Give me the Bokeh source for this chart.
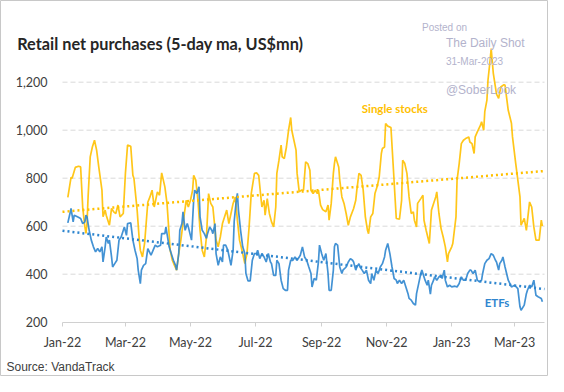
import pandas as pd
from bokeh.plotting import figure
from bokeh.models import (ColumnDataSource, FixedTicker, DatetimeTickFormatter,
                          Label, Range1d, NumeralTickFormatter)
from bokeh.embed import file_html
from bokeh.resources import INLINE

# ---------------- data ----------------
BASE_DATE = "2022-01-01"   # day offsets below are counted from this date

stock_days = [5, 8, 9, 12, 15, 17, 19, 21, 22, 23, 24, 26, 28, 30, 32, 34, 37, 38, 40, 41,
              44, 46, 48, 50, 52, 54, 57, 59, 61, 64, 66, 67, 70, 72, 73, 75, 77, 80, 82, 84,
              86, 89, 91, 93, 96, 98, 101, 103, 105, 107, 109, 111, 113, 116, 118, 120, 122, 123, 125, 127,
              129, 131, 133, 135, 137, 139, 141, 144, 146, 148, 150, 152, 154, 156, 158, 160, 162, 164, 166, 169,
              171, 173, 175, 177, 180, 182, 184, 186, 187, 189, 190, 192, 194, 196, 198, 200, 201, 203, 205, 206,
              208, 210, 212, 214, 215, 217, 219, 220, 222, 224, 226, 228, 230, 232, 233, 235, 237, 239, 240, 242,
              244, 247, 249, 250, 252, 254, 255, 256, 259, 260, 262, 264, 266, 268, 270, 273, 275, 276, 278, 280,
              282, 284, 286, 287, 289, 291, 293, 295, 297, 299, 300, 302, 303, 305, 308, 310, 312, 313, 316, 318,
              319, 321, 323, 325, 327, 329, 330, 332, 333, 336, 338, 339, 341, 344, 346, 348, 350, 351, 353, 355,
              357, 359, 361, 362, 365, 366, 369, 370, 372, 374, 376, 378, 381, 382, 384, 386, 387, 389, 392, 393,
              395, 396, 398, 399, 401, 402, 404, 407, 409, 411, 414, 415, 418, 421, 422, 425, 429, 430, 433, 435,
              438, 440, 442, 444, 447, 449, 450]
stock_values = [720, 803, 800, 845, 850, 847, 675, 597, 570, 612, 722, 889, 930, 958, 917, 847, 750, 639, 667, 646,
                604, 674, 660, 653, 688, 639, 653, 820, 938, 933, 812, 799, 667, 542, 500, 472, 529, 700, 722, 750,
                680, 743, 729, 822, 764, 695, 500, 458, 437, 417, 486, 542, 611, 708, 680, 708, 750, 812, 792, 708,
                583, 500, 472, 555, 736, 695, 680, 542, 514, 555, 611, 639, 667, 611, 653, 695, 722, 625, 542, 486,
                444, 486, 597, 736, 820, 822, 812, 722, 680, 708, 646, 715, 653, 618, 597, 680, 820, 875, 938, 889,
                882, 930, 1000, 1053, 1000, 958, 917, 820, 743, 750, 750, 868, 861, 833, 750, 736, 750, 736, 750, 688,
                669, 660, 688, 625, 695, 820, 861, 889, 847, 792, 722, 695, 653, 604, 639, 674, 708, 750, 820, 812,
                750, 639, 583, 569, 639, 653, 736, 764, 805, 903, 924, 930, 1028, 1017, 1011, 861, 708, 632, 629, 708,
                875, 861, 820, 722, 653, 660, 625, 597, 695, 715, 729, 625, 583, 528, 667, 695, 722, 743, 653, 590,
                555, 514, 451, 486, 514, 528, 639, 792, 861, 944, 958, 965, 972, 951, 944, 903, 972, 993, 1021, 1035,
                1000, 1077, 1125, 1208, 1292, 1340, 1237, 1150, 1133, 1180, 1190, 1187, 1083, 1029, 972, 862, 722, 604, 633, 583,
                701, 680, 597, 542, 542, 625, 600]

etf_days = [5, 7, 8, 10, 11, 14, 17, 19, 21, 22, 23, 25, 27, 29, 31, 33, 35, 37, 38, 40,
            41, 43, 44, 46, 47, 49, 51, 53, 55, 58, 60, 61, 64, 66, 68, 70, 71, 73, 74, 76,
            78, 80, 83, 85, 87, 89, 92, 93, 96, 97, 100, 102, 104, 106, 107, 109, 110, 112, 113, 115,
            117, 118, 121, 123, 124, 126, 128, 129, 131, 133, 135, 136, 138, 140, 141, 143, 144, 146, 148, 150,
            151, 153, 155, 157, 158, 160, 161, 163, 164, 165, 167, 169, 171, 172, 174, 176, 178, 180, 182, 183,
            185, 187, 189, 191, 193, 195, 196, 198, 200, 201, 203, 205, 207, 209, 211, 212, 214, 216, 218, 220,
            222, 223, 225, 227, 229, 231, 233, 234, 236, 238, 240, 241, 243, 245, 247, 249, 250, 252, 254, 255,
            256, 258, 260, 262, 263, 266, 268, 270, 272, 273, 275, 276, 278, 279, 281, 283, 285, 287, 289, 290,
            292, 294, 296, 298, 300, 302, 303, 305, 307, 309, 311, 313, 314, 316, 318, 320, 322, 324, 325, 327,
            329, 331, 332, 334, 336, 337, 338, 340, 342, 343, 345, 346, 348, 349, 351, 353, 355, 356, 358, 359,
            361, 363, 365, 368, 370, 372, 374, 376, 378, 380, 382, 383, 385, 387, 389, 391, 393, 394, 396, 398,
            400, 402, 404, 406, 407, 409, 410, 412, 413, 415, 418, 421, 424, 427, 429, 430, 433, 435, 436, 438,
            440, 442, 444, 446, 449, 450]
etf_values = [614, 653, 674, 618, 646, 639, 632, 611, 618, 646, 639, 583, 542, 514, 493, 507, 493, 514, 451, 514,
              555, 528, 542, 472, 430, 444, 458, 542, 555, 597, 562, 611, 614, 542, 500, 465, 417, 361, 417, 437,
              444, 507, 479, 500, 521, 514, 521, 569, 569, 597, 514, 486, 458, 437, 417, 486, 583, 611, 660, 583,
              611, 597, 542, 708, 750, 736, 764, 639, 583, 569, 549, 569, 597, 583, 569, 611, 486, 437, 472, 451,
              521, 521, 500, 458, 437, 500, 620, 708, 737, 667, 583, 514, 486, 403, 372, 372, 458, 486, 486, 500,
              465, 486, 472, 451, 486, 451, 444, 395, 395, 458, 444, 375, 340, 333, 333, 417, 458, 458, 472, 458,
              472, 479, 514, 472, 458, 430, 403, 347, 382, 375, 451, 521, 486, 458, 486, 403, 333, 333, 417, 514,
              528, 521, 430, 403, 417, 430, 451, 465, 458, 451, 417, 430, 444, 430, 417, 403, 417, 375, 361, 403,
              375, 417, 403, 430, 444, 472, 500, 528, 486, 430, 382, 375, 361, 375, 361, 375, 347, 319, 299, 292,
              278, 271, 319, 361, 403, 417, 403, 375, 354, 375, 317, 354, 375, 389, 375, 389, 396, 382, 417, 375,
              347, 354, 347, 350, 347, 361, 389, 375, 375, 403, 417, 417, 403, 417, 375, 368, 375, 403, 444, 458,
              465, 486, 479, 458, 451, 417, 444, 458, 472, 430, 375, 347, 354, 340, 264, 250, 271, 319, 333, 354,
              347, 375, 312, 306, 299, 285]

# dotted linear trend lines (start / end), as drawn in the reference
trend_days = [0, 452]
stock_trend = [660, 830]
etf_trend = [581, 338]

x_tick_dates = ["2022-01-01", "2022-03-01", "2022-05-01", "2022-07-01",
                "2022-09-01", "2022-11-01", "2023-01-01", "2023-03-01"]
AXIS_END_DAY = 452          # plot area ends ~28-Mar-2023
y_ticks = [200, 400, 600, 800, 1000, 1200]

# ---------------- helpers ----------------
base = pd.Timestamp(BASE_DATE)
EPOCH = pd.Timestamp("1970-01-01")


def to_ms(ts):
    return (ts - EPOCH) / pd.Timedelta(milliseconds=1)


def days_to_dates(days):
    return base + pd.to_timedelta(days, unit="D")


W, H = 548, 376
AX_LEFT, AX_RIGHT, AX_BASE = 62, 544, 321.7     # plot area in canvas pixels
PX_PER_DAY = (AX_RIGHT - AX_LEFT) / AXIS_END_DAY
PX_PER_UNIT = 0.24


def XF(fx):            # canvas x -> datetime ms
    return to_ms(base + pd.Timedelta(days=(fx - AX_LEFT) / PX_PER_DAY))


def YF(fy):            # canvas y -> value
    return 200 + (AX_BASE - fy) / PX_PER_UNIT


def X(rx):             # reference-picture x -> datetime ms (slight compression on the right)
    fx = rx if rx <= AX_LEFT else AX_LEFT + (rx - AX_LEFT) * (AX_RIGHT - AX_LEFT) / 490.3
    return XF(fx)


stock_src = ColumnDataSource(dict(date=days_to_dates(stock_days), v=stock_values))
etf_src = ColumnDataSource(dict(date=days_to_dates(etf_days), v=etf_values))
trend_src = ColumnDataSource(dict(date=days_to_dates(trend_days), s=stock_trend, e=etf_trend))
grid_y = y_ticks[1:]
grid_src = ColumnDataSource(dict(y=grid_y,
                                 x0=[base] * len(grid_y),
                                 x1=[base + pd.Timedelta(days=AXIS_END_DAY)] * len(grid_y)))

YELLOW = "#FFC000"
BLUE = "#2F86CF"

p = figure(width=W, height=H, x_axis_type="datetime",
           x_range=Range1d(XF(0), XF(W)), y_range=Range1d(YF(H), YF(0)),
           output_backend="svg", toolbar_location=None,
           min_border=0, min_border_left=0, min_border_right=0,
           min_border_top=0, min_border_bottom=0)
p.title.visible = False
p.outline_line_color = "#C8C8C8"
p.outline_line_width = 1
p.background_fill_color = "white"
p.border_fill_color = "white"
p.xgrid.visible = False
p.ygrid.visible = False

# dashed horizontal gridlines over the plot area only
p.segment(x0="x0", y0="y", x1="x1", y1="y", source=grid_src, line_color="#D9D9D9",
          line_width=1, line_dash="5 3", level="underlay")

# y axis, drawn at the left edge of the plot area
p.yaxis.fixed_location = to_ms(base)
p.yaxis.bounds = (200, 1200)
p.yaxis.ticker = FixedTicker(ticks=y_ticks)
p.yaxis.formatter = NumeralTickFormatter(format="0,0")
p.yaxis.axis_line_color = None
p.yaxis.major_tick_line_color = None
p.yaxis.minor_tick_line_color = None
p.yaxis.major_tick_out = 0
p.yaxis.major_tick_in = 0
p.yaxis.major_label_standoff = 15
p.yaxis.major_label_text_font = "Lato"
p.yaxis.major_label_text_font_size = "12.5px"
p.yaxis.major_label_text_color = "#404040"

# x axis, drawn at the 200 baseline
p.xaxis.fixed_location = 200
p.xaxis.bounds = (to_ms(base), to_ms(base + pd.Timedelta(days=AXIS_END_DAY)))
p.xaxis.ticker = FixedTicker(ticks=[to_ms(pd.Timestamp(d)) for d in x_tick_dates])
fmt = "%b-%y"
p.xaxis.formatter = DatetimeTickFormatter(microseconds=fmt, milliseconds=fmt, seconds=fmt,
                                          minsec=fmt, minutes=fmt, hourmin=fmt, hours=fmt,
                                          days=fmt, months=fmt, years=fmt)
p.xaxis.axis_line_color = "#D0D0D0"
p.xaxis.major_tick_line_color = "#D0D0D0"
p.xaxis.minor_tick_line_color = None
p.xaxis.major_tick_out = 4
p.xaxis.major_tick_in = 0
p.xaxis.major_label_standoff = 9
p.xaxis.major_label_text_font = "Lato"
p.xaxis.major_label_text_font_size = "12.5px"
p.xaxis.major_label_text_color = "#404040"

# series
p.line("date", "v", source=stock_src, line_color=YELLOW, line_width=1.7, line_alpha=0.9)
p.line("date", "v", source=etf_src, line_color=BLUE, line_width=1.7, line_alpha=0.9)
p.line("date", "s", source=trend_src, line_color=YELLOW, line_width=2.5, line_dash="2 3")
p.line("date", "e", source=trend_src, line_color=BLUE, line_width=2.5, line_dash="2 3")


def text(rx, ry, txt, font, size, color, bold=False, align="left"):
    p.add_layout(Label(x=X(rx), y=YF(ry), text=txt,
                       text_font=font, text_font_size=size, text_color=color,
                       text_font_style="bold" if bold else "normal",
                       text_baseline="middle", text_align=align))


text(16.7, 42.7, "Retail net purchases (5-day ma, US$mn)", "Lato", "16.3px", "#262626", bold=True)
text(400, 107.7, "Single stocks", "Lato", "11.5px", YELLOW, bold=True, align="center")
text(504, 301.7, "ETFs", "Lato", "11.5px", BLUE, bold=True, align="center")
text(6, 366, "Source: VandaTrack", "Liberation Sans", "12px", "#404040")

WM = "#B3B3CC"
text(427.7, 26.7, "Posted on", "Liberation Sans", "10px", WM)
text(452, 42.7, "The Daily Shot", "Liberation Sans", "12px", WM)
text(452, 60.7, "31-Mar-2023", "Liberation Sans", "10px", WM)
text(452, 89.3, "@SoberLook", "Liberation Sans", "12px", WM)

open("out.html", "w").write(file_html(p, INLINE))
